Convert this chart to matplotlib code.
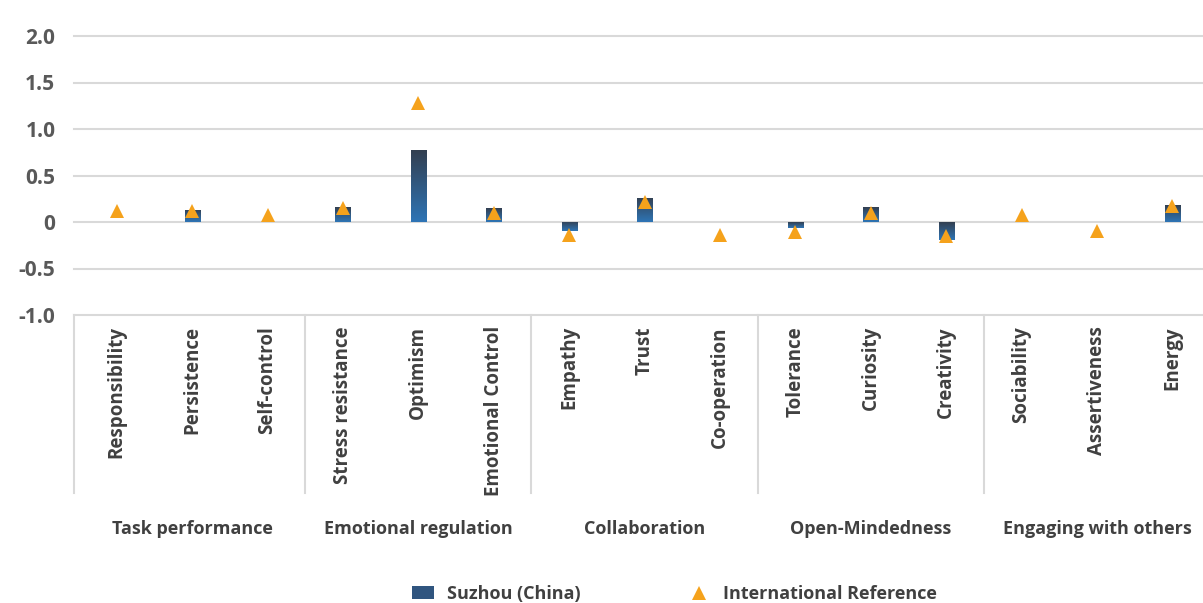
import numpy as np
import matplotlib.pyplot as plt
import matplotlib.transforms as mtransforms
from matplotlib.patches import Patch
from matplotlib.lines import Line2D
from matplotlib.colors import LinearSegmentedColormap

#--------data--------
skills = ["Responsibility", "Persistence", "Self-control",
          "Stress resistance", "Optimism", "Emotional Control",
          "Empathy", "Trust", "Co-operation",
          "Tolerance", "Curiosity", "Creativity",
          "Sociability", "Assertiveness", "Energy"]
groups = ["Task performance", "Emotional regulation", "Collaboration",
          "Open-Mindedness", "Engaging with others"]
suzhou = [0.0, 0.13, 0.0, 0.16, 0.77, 0.15, -0.10, 0.26, 0.0,
          -0.06, 0.16, -0.19, 0.0, 0.0, 0.18]
intl_ref = [0.12, 0.12, 0.08, 0.15, 1.28, 0.10, -0.145, 0.22, -0.14,
            -0.11, 0.10, -0.155, 0.075, -0.10, 0.175]
yticks = [-1.0, -0.5, 0, 0.5, 1.0, 1.5, 2.0]
ytick_labels = ["-1.0", "-0.5", "0", "0.5", "1.0", "1.5", "2.0"]

#--------style--------
plt.rcParams['font.family'] = ['Open Sans', 'DejaVu Sans']
txt_color = "#595959"
lab_color = "#404040"
grid_color = "#D9D9D9"
bar_top = "#333F50"
bar_bottom = "#2E75B6"
tri_color = "#F5A21C"
fw = "bold"

W, H = 1203, 603
fig = plt.figure(figsize=(W / 100, H / 100), dpi=100)
ax_l, ax_r = 79, 1210
ax = fig.add_axes([ax_l / W, 1 - 315 / H, (ax_r - ax_l) / W, (315 - 36) / H])

x = np.arange(len(skills))
bars = ax.bar(x, suzhou, width=0.2, color="none", zorder=2)

# gradient fill for each bar
grad = np.linspace(0, 1, 256).reshape(-1, 1)
cmap = LinearSegmentedColormap.from_list("bar", [bar_top, bar_bottom])
for b in bars:
    h = b.get_height()
    if h == 0:
        continue
    x0 = b.get_x()
    x1 = x0 + b.get_width()
    y0, y1 = sorted([0, h])
    im = ax.imshow(grad, extent=[x0, x1, y0, y1], aspect="auto", cmap=cmap,
                   origin="upper", zorder=2)
    im.set_clip_path(b)

ax.plot(x, intl_ref, linestyle="none", marker="^", markersize=10,
        color=tri_color, markeredgewidth=0, zorder=3)

ax.set_xlim(-0.5, len(skills) - 0.5)
ax.set_ylim(-1.0, 2.0)
ax.set_yticks(yticks)
ax.set_yticklabels(ytick_labels, fontsize=15, fontweight=fw, color=txt_color)
ax.tick_params(axis="y", length=0, pad=17)
ax.set_xticks([])
for s in ax.spines.values():
    s.set_visible(False)
gx0 = -(ax_l - 74) / (ax_r - ax_l)
for yt in yticks:
    ax.axhline(yt, xmin=gx0, xmax=1, color=grid_color, lw=1.5, zorder=1, clip_on=False)

# multi-level category axis below the plot
trans = mtransforms.blended_transform_factory(ax.transData, ax.transAxes)
box_bottom = -178 / 279
for i in range(0, len(skills) + 1, 3):
    xs = i - 0.5 if i > 0 else -0.5 + gx0 * len(skills)
    ax.plot([xs, xs], [0, box_bottom], color=grid_color, lw=1.5,
            transform=trans, clip_on=False)
for i, name in enumerate(skills):
    ax.text(i, -0.04, name, transform=trans, rotation=90, ha="center", va="top",
            fontsize=13.5, fontweight=fw, color=lab_color)
for g, name in enumerate(groups):
    ax.text(g * 3 + 1, -0.767, name, transform=trans, ha="center", va="center",
            fontsize=13, fontweight=fw, color=lab_color)

handles = [Patch(facecolor="#30557F", edgecolor="none"),
           Line2D([], [], linestyle="none", marker="^", markersize=10,
                  color=tri_color, markeredgewidth=0)]
fig.legend(handles, ["Suzhou (China)", "International Reference"],
           loc="center", bbox_to_anchor=(0.5607, 1 - 594 / H), ncol=2, frameon=False,
           prop={"size": 13, "weight": fw}, labelcolor=lab_color,
           columnspacing=6.0, handlelength=1.2, handletextpad=0.7)

fig.savefig("out.png", dpi=100)
